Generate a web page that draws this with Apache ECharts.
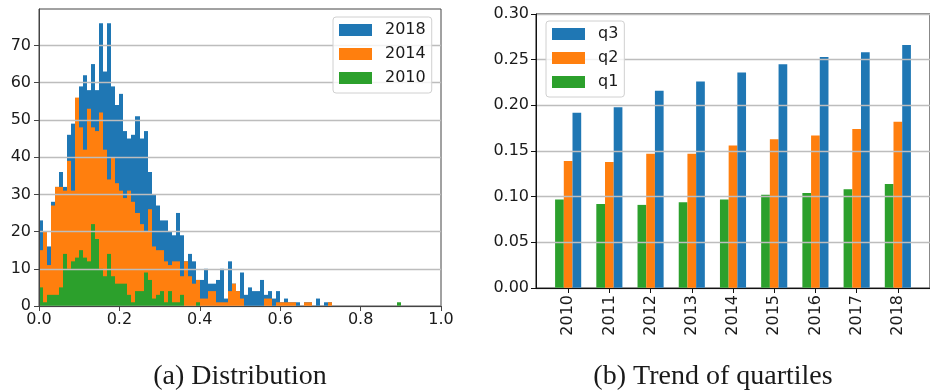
<!DOCTYPE html>
<html>
<head>
<meta charset="utf-8">
<script src="https://cdn.jsdelivr.net/npm/echarts@6/dist/echarts.min.js"></script>
<style>
  html, body { margin: 0; padding: 0; background: #fff; }
  #chart { width: 930px; height: 391px; }
</style>
</head>
<body>
<div id="chart"></div>
<script>
// ---- (a) histogram: 100 bins of width 0.01 over [0, 1] ----
const binWidth = 0.01;
const counts2018 = [
  23, 20, 16, 28, 32, 36, 32, 46, 49, 55,
  59, 62, 58, 65, 58, 76, 63, 76, 59, 54,
  57, 47, 45, 46, 51, 45, 47, 36, 30, 27,
  23, 23, 20, 19, 25, 19, 12, 14, 12, 7,
  7, 10, 6, 6, 7, 10, 2, 12, 6, 4,
  9, 3, 5, 4, 4, 7, 3, 4, 2, 4,
  1, 2, 1, 1, 1, 0, 1, 1, 0, 2,
  0, 1, 1, 0, 0, 0, 0, 0, 0, 0,
  0, 0, 0, 0, 0, 0, 0, 0, 0, 0,
  0, 0, 0, 0, 0, 0, 0, 0, 0, 0
];
const counts2014 = [
  15, 20, 11, 27, 32, 32, 31, 39, 31, 56,
  48, 42, 53, 48, 47, 52, 42, 34, 40, 33,
  31, 29, 31, 28, 25, 22, 20, 26, 16, 15,
  15, 12, 11, 12, 12, 8, 12, 8, 6, 7,
  2, 2, 4, 4, 1, 1, 1, 4, 6, 4,
  2, 0, 0, 0, 0, 0, 2, 2, 0, 1,
  1, 1, 1, 1, 0, 0, 1, 1, 0, 0,
  0, 0, 1, 0, 0, 0, 0, 0, 0, 0,
  0, 0, 0, 0, 0, 0, 0, 0, 0, 0,
  0, 0, 0, 0, 0, 0, 0, 0, 0, 0
];
const counts2010 = [
  5, 1, 3, 3, 3, 5, 14, 10, 12, 13,
  15, 13, 12, 22, 18, 10, 8, 14, 8, 6,
  6, 6, 3, 1, 4, 4, 9, 7, 2, 3,
  4, 1, 4, 1, 1, 3, 0, 0, 0, 1,
  0, 0, 0, 0, 0, 0, 0, 0, 0, 0,
  0, 0, 0, 0, 0, 0, 0, 0, 0, 0,
  0, 0, 0, 0, 0, 0, 0, 0, 0, 0,
  0, 0, 0, 0, 0, 0, 0, 0, 0, 0,
  0, 0, 0, 0, 0, 0, 0, 0, 0, 1,
  0, 0, 0, 0, 0, 0, 0, 0, 0, 0
];
const histYTicks = [0, 10, 20, 30, 40, 50, 60, 70];

// ---- (b) quartiles per year ----
const years = ['2010', '2011', '2012', '2013', '2014', '2015', '2016', '2017', '2018'];
const q1 = [0.097, 0.092, 0.091, 0.094, 0.097, 0.102, 0.104, 0.108, 0.114];
const q2 = [0.139, 0.138, 0.147, 0.147, 0.156, 0.163, 0.167, 0.174, 0.182];
const q3 = [0.192, 0.198, 0.216, 0.226, 0.236, 0.245, 0.253, 0.258, 0.266];

const C_BLUE = '#1f77b4', C_ORANGE = '#ff7f0e', C_GREEN = '#2ca02c';
const TXT = '#1a1a1a';
const FONT = 'DejaVu Sans';

// [binStart, binEnd, count] rows for the custom histogram series
function toBins(counts) {
  const rows = [];
  counts.forEach((c, i) => {
    if (c > 0) rows.push([i * binWidth, (i + 1) * binWidth, c]);
  });
  return rows;
}

function histRect(params, api) {
  const top = api.coord([api.value(0), api.value(2)]);
  const base = api.coord([api.value(1), 0]);
  const x0 = Math.round(top[0]), x1 = Math.round(base[0]);
  return {
    type: 'rect',
    shape: { x: x0, y: top[1], width: x1 - x0, height: base[1] - top[1] },
    style: { fill: api.visual('color') }
  };
}

function histSeries(name, counts, color) {
  return {
    name: name, type: 'custom', xAxisIndex: 0, yAxisIndex: 0,
    renderItem: histRect, data: toBins(counts),
    encode: { x: [0, 1], y: 2 },
    itemStyle: { color: color }, z: 2, silent: true
  };
}

function quartSeries(name, values, color) {
  return {
    name: name, type: 'bar', xAxisIndex: 1, yAxisIndex: 1,
    data: values.map((v, i) => [i, v]),
    barWidth: 8.7, barGap: '0%',
    itemStyle: { color: color }, z: 2, silent: true
  };
}

const legendCommon = {
  orient: 'vertical', icon: 'rect', itemWidth: 33, itemHeight: 12, itemGap: 8,
  selectedMode: false, backgroundColor: 'rgba(255,255,255,0.8)',
  borderColor: '#d0d0d0', borderWidth: 1, borderRadius: 3, padding: [5, 6, 7, 6],
  textStyle: { fontFamily: FONT, fontSize: 16, color: TXT, lineHeight: 16, padding: [0, 0, 0, 8] }
};

const captionStyle = { fontFamily: 'Liberation Serif', fontSize: 28, fontWeight: 'normal', color: TXT };

const option = {
  animation: false,
  backgroundColor: '#fff',
  title: [
    { text: '(a) Distribution', left: 235, top: 358, textAlign: 'center', textStyle: captionStyle },
    { text: '(b) Trend of quartiles', left: 708, top: 358, textAlign: 'center', textStyle: captionStyle }
  ],
  legend: [
    Object.assign({}, legendCommon, { left: 333, top: 17, data: ['2018', '2014', '2010'] }),
    Object.assign({}, legendCommon, { left: 546, top: 21, data: ['q3', 'q2', 'q1'] })
  ],
  grid: [
    { left: 39, right: 489, top: 9, bottom: 85, show: true, borderColor: '#444', borderWidth: 1, backgroundColor: 'transparent' },
    { left: 536, right: -10, top: 14, bottom: 103, show: true, borderColor: '#111', borderWidth: 1, backgroundColor: 'transparent' }
  ],
  xAxis: [
    { type: 'value', gridIndex: 0, min: 0, max: 1, interval: 0.2, z: 3,
      axisLine: { show: true, onZero: false, lineStyle: { color: '#444', width: 1 } },
      axisTick: { show: true, length: 5, lineStyle: { color: '#444' } },
      axisLabel: { margin: 6, fontFamily: FONT, fontSize: 16, color: TXT, formatter: v => v.toFixed(1) },
      splitLine: { show: false } },
    { type: 'value', gridIndex: 1, min: -0.78, max: 8.78, z: 3,
      axisLine: { show: true, onZero: false, lineStyle: { color: '#111', width: 1 } },
      axisTick: { show: true, length: 5, customValues: years.map((y, i) => i), lineStyle: { color: '#111' } },
      axisLabel: { margin: 7, rotate: 90, fontFamily: FONT, fontSize: 16, color: TXT,
        customValues: years.map((y, i) => i), formatter: v => years[Math.round(v)] },
      splitLine: { show: false } }
  ],
  yAxis: [
    { type: 'value', gridIndex: 0, min: 0, max: 79.8, z: 3,
      axisLine: { show: true, onZero: false, lineStyle: { color: '#444', width: 1 } },
      axisTick: { show: true, length: 5, customValues: histYTicks, lineStyle: { color: '#444' } },
      axisLabel: { margin: 8, fontFamily: FONT, fontSize: 16, color: TXT, customValues: histYTicks },
      splitLine: { show: true, lineStyle: { color: '#bdbdbd', width: 1.3 } },
      interval: 10 },
    { type: 'value', gridIndex: 1, min: 0, max: 0.3, interval: 0.05, z: 3,
      axisLine: { show: true, onZero: false, lineStyle: { color: '#111', width: 1 } },
      axisTick: { show: true, length: 5, lineStyle: { color: '#111' } },
      axisLabel: { margin: 7, fontFamily: FONT, fontSize: 16, color: TXT, formatter: v => v.toFixed(2) },
      splitLine: { show: true, lineStyle: { color: '#bdbdbd', width: 1.3 } } }
  ],
  series: [
    histSeries('2018', counts2018, C_BLUE),
    histSeries('2014', counts2014, C_ORANGE),
    histSeries('2010', counts2010, C_GREEN),
    quartSeries('q1', q1, C_GREEN),
    quartSeries('q2', q2, C_ORANGE),
    quartSeries('q3', q3, C_BLUE)
  ]
};

const chart = echarts.init(document.getElementById('chart'), null, { renderer: 'canvas' });
chart.setOption(option);
</script>
</body>
</html>
